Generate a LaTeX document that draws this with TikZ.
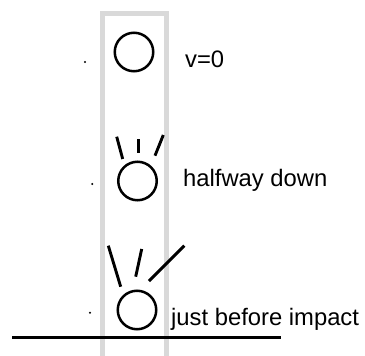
\documentclass[tikz,border=0pt]{standalone}
\usepackage{fontspec}
\setmainfont{Liberation Sans}
\begin{document}
\begin{tikzpicture}[x=1pt,y=-1pt,
  ball/.style={draw=black,line width=2.5pt,circle,minimum size=38.5pt,inner sep=0pt},
  lbl/.style={anchor=base west,inner sep=0pt,font=\fontsize{23.8}{27}\selectfont},
  ray/.style={line width=2.9pt,black},
  pt/.style={fill=black,circle,inner sep=0pt,minimum size=2.2pt},
  column/.style={draw=black!15,line width=5pt}]
\useasboundingbox (0,0) rectangle (365,356);
% gray column
\draw[column] (102.5,356) -- (102.5,13.5) -- (166.5,13.5) -- (166.5,356);
% ground
\draw[line width=3pt] (12,337.3) -- (281,337.3);
% balls
\node[ball] (b1) at (134,52) {};
\node[ball] (b2) at (137.5,181) {};
\node[ball] (b3) at (137,310) {};
% dots
\node[pt] (d1) at (85,62) {};
\node[pt] (d2) at (92.3,184) {};
\node[pt] (d3) at (90,312.7) {};
% rays halfway
\draw[ray] (116.7,136.7) -- (122.7,159);
\draw[ray] (138.3,139.3) -- (138.3,153.3);
\draw[ray] (155,155.7) -- (163.3,135);
% rays impact
\draw[ray] (108.3,245.7) -- (120.7,286.7);
\draw[ray] (141.7,249) -- (135.7,276.7);
\draw[ray] (149,281) -- (184.3,245.7);
% labels
\node[lbl] (t1) at (185,67) {v=0};
\node[lbl] (t2) at (183,186.7) {halfway down};
\node[lbl] (t3) at (171,325) {just before impact};
\end{tikzpicture}
\end{document}
